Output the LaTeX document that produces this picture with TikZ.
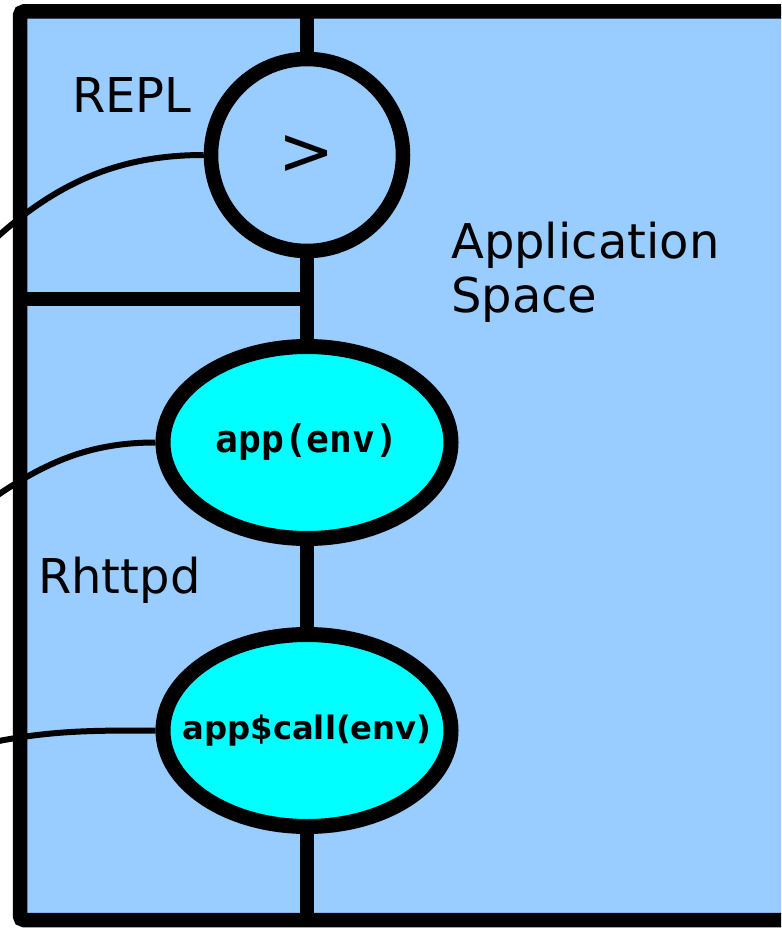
\documentclass[tikz,border=0pt]{standalone}
\usepackage{fontspec}
\setmainfont{DejaVu Sans}
\newfontfamily\monofam{DejaVu Sans Mono}
\usetikzlibrary{shapes.geometric}
\definecolor{appblue}{RGB}{153,204,255}
\definecolor{funccyan}{RGB}{0,255,255}
\begin{document}
\begin{tikzpicture}[x=1pt,y=-1pt,
  bar/.style={line width=14.5pt},
  wire/.style={line width=6pt},
  replnode/.style={circle, draw, line width=14.5pt, fill=appblue, minimum size=192pt, inner sep=0pt},
  funcnode/.style={ellipse, draw, line width=15pt, fill=funccyan, minimum width=288pt, minimum height=192pt, inner sep=0pt},
  lbl/.style={font=\fontsize{48}{54}\selectfont, inner sep=0pt}]
\useasboundingbox (0,0) rectangle (781,928);
\clip (0,0) rectangle (781,928);
\fill[appblue] (20,11.5) rectangle (820,920);
\draw[bar] (307,11.5) -- (307,920);
\draw[bar] (20,299) -- (307,299);
\node[replnode] (repl) at (307,155) {\raisebox{-3pt}{\fontsize{67}{67}\selectfont >}};
\node[funcnode] (app) at (307,442.5) {\makebox[0pt][c]{\monofam\bfseries\fontsize{38}{40}\selectfont app(env)}};
\node[funcnode] (call) at (307,730.5) {\makebox[0pt][c]{\bfseries\fontsize{32.3}{36}\selectfont app\$call(env)}};
\coordinate (c1) at (-25,258);
\coordinate (c2) at (-25,511);
\coordinate (c3) at (-25,746);
\draw[wire] (repl.west) .. controls (111,155) and (45,188) .. (c1);
\draw[wire] (app.west) .. controls (85,442.5) and (38,465) .. (c2);
\draw[wire] (call.west) .. controls (90,730.5) and (45,730) .. (c3);
\draw[bar, rounded corners=4pt] (20,11.5) rectangle (820,920);
\node[lbl, anchor=base west] (repllbl) at (72,113) {REPL};
\node[lbl, anchor=base west] (rhttpd) at (38,593) {Rhttpd};
\node[lbl, anchor=base west, align=left] (appspace) at (451,312) {Application\\Space};
\end{tikzpicture}
\end{document}
